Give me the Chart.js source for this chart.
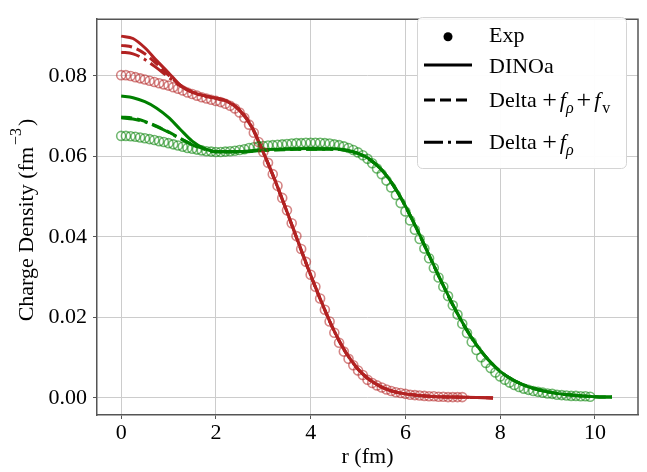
<!DOCTYPE html>
<html>
<head>
<meta charset="utf-8">
<script src="https://cdn.jsdelivr.net/npm/chart.js@4.4.0/dist/chart.umd.min.js"></script>
<style>
  html, body { margin: 0; padding: 0; background: #fff; }
</style>
</head>
<body>
<canvas id="myChart" width="647" height="472"></canvas>
<script>
// ---- data ----
let xTicks = [0, 2, 4, 6, 8, 10];
let yTicks = [0, 0.02, 0.04, 0.06, 0.08];

// red nucleus, experimental points
let rExpRed = [0.0,0.1,0.2,0.3,0.4,0.5,0.6,0.7,0.8,0.9,1.0,1.1,1.2,1.3,1.4,1.5,1.6,1.7,1.8,1.9,
  2.0,2.1,2.2,2.3,2.4,2.5,2.6,2.7,2.8,2.9,3.0,3.1,3.2,3.3,3.4,3.5,3.6,3.7,3.8,3.9,
  4.0,4.1,4.2,4.3,4.4,4.5,4.6,4.7,4.8,4.9,5.0,5.1,5.2,5.3,5.4,5.5,5.6,5.7,5.8,5.9,
  6.0,6.1,6.2,6.3,6.4,6.5,6.6,6.7,6.8,6.9,7.0,7.1,7.2];
let expRed = [0.0802,0.0802,0.0800,0.0797,0.0794,0.0791,0.0788,0.0785,0.0782,0.0779,
  0.0776,0.0772,0.0768,0.0764,0.0759,0.0755,0.0751,0.0747,0.0744,0.0741,
  0.0738,0.0735,0.0731,0.0726,0.0719,0.0709,0.0696,0.0679,0.0659,0.0636,
  0.0611,0.0584,0.0556,0.0527,0.0497,0.0466,0.0434,0.0402,0.0370,0.0338,
  0.0306,0.0276,0.0247,0.0219,0.0190,0.0162,0.0137,0.0115,0.0097,0.0081,
  0.0068,0.0057,0.0045,0.0037,0.0031,0.0026,0.0021,0.0017,0.0014,0.0012,
  0.0010,0.0008,0.0007,0.0006,0.0005,0.0004,0.0004,0.0003,0.0003,0.0002,
  0.0002,0.0002,0.0002];

// red nucleus, calculations
let rRed = [0,0.25,0.5,0.75,1,1.25,1.5,1.75,2,2.25,2.5,2.75,3,3.25,3.5,3.75,4,4.25,4.5,4.75,
  5,5.25,5.5,5.75,6,6.5,7,7.5,7.85];
let dinoaRed = [0.0899,0.0893,0.0870,0.0838,0.0808,0.0777,0.0760,0.0751,0.0745,0.0736,0.0714,0.0674,
  0.0610,0.0540,0.0463,0.0384,0.0306,0.0233,0.0166,0.0112,0.0072,0.0045,0.0027,0.0016,0.0010,
  0.0004,0.0002,0.0001,0.0000];
let deltaFrFvRed = [0.0876,0.0871,0.0855,0.0830,0.0802,0.0777,0.0760,0.0751,0.0745,0.0737,0.0716,0.0676,
  0.0611,0.0540,0.0462,0.0382,0.0304,0.0231,0.0165,0.0111,0.0071,0.0044,0.0027,0.0016,0.0010,
  0.0004,0.0002,0.0001,0.0000];
let deltaFrRed = [0.0859,0.0855,0.0841,0.0820,0.0797,0.0775,0.0759,0.0750,0.0744,0.0736,0.0715,0.0675,
  0.0610,0.0539,0.0462,0.0383,0.0305,0.0232,0.0165,0.0111,0.0071,0.0044,0.0027,0.0016,0.0010,
  0.0004,0.0002,0.0001,0.0000];

// green nucleus, experimental points
let rExpGreen = [0.0,0.1,0.2,0.3,0.4,0.5,0.6,0.7,0.8,0.9,1.0,1.1,1.2,1.3,1.4,1.5,1.6,1.7,1.8,1.9,
  2.0,2.1,2.2,2.3,2.4,2.5,2.6,2.7,2.8,2.9,3.0,3.1,3.2,3.3,3.4,3.5,3.6,3.7,3.8,3.9,
  4.0,4.1,4.2,4.3,4.4,4.5,4.6,4.7,4.8,4.9,5.0,5.1,5.2,5.3,5.4,5.5,5.6,5.7,5.8,5.9,
  6.0,6.1,6.2,6.3,6.4,6.5,6.6,6.7,6.8,6.9,7.0,7.1,7.2,7.3,7.4,7.5,7.6,7.7,7.8,7.9,
  8.0,8.1,8.2,8.3,8.4,8.5,8.6,8.7,8.8,8.9,9.0,9.1,9.2,9.3,9.4,9.5,9.6,9.7,9.8,9.9];
let expGreen = [0.0651,0.0651,0.0650,0.0649,0.0647,0.0645,0.0643,0.0641,0.0638,0.0636,
  0.0633,0.0630,0.0627,0.0624,0.0621,0.0619,0.0617,0.0615,0.0613,0.0612,
  0.0611,0.0611,0.0612,0.0613,0.0614,0.0616,0.0618,0.0621,0.0623,0.0625,
  0.0626,0.0627,0.0628,0.0629,0.0630,0.0631,0.0632,0.0633,0.0633,0.0634,
  0.0634,0.0634,0.0634,0.0633,0.0632,0.0630,0.0628,0.0625,0.0621,0.0616,
  0.0610,0.0603,0.0594,0.0583,0.0570,0.0556,0.0540,0.0523,0.0504,0.0484,
  0.0463,0.0441,0.0418,0.0395,0.0371,0.0347,0.0323,0.0299,0.0276,0.0253,
  0.0230,0.0207,0.0184,0.0161,0.0139,0.0119,0.0101,0.0087,0.0074,0.0063,
  0.0053,0.0045,0.0038,0.0032,0.0027,0.0023,0.0020,0.0017,0.0015,0.0013,
  0.0011,0.0010,0.0008,0.0007,0.0006,0.0005,0.0005,0.0004,0.0004,0.0003];

// green nucleus, calculations
let rGreen = [0,0.25,0.5,0.75,1,1.25,1.5,1.75,2,2.5,3,3.5,4,4.5,4.75,5,5.25,5.5,5.75,6,
  6.25,6.5,6.75,7,7.25,7.5,7.75,8,8.25,8.5,8.75,9,9.5,10,10.36];
let dinoaGreen = [0.0750,0.0746,0.0736,0.0720,0.0697,0.0667,0.0638,0.0620,0.0612,0.0612,0.0617,0.0619,
  0.0620,0.0619,0.0616,0.0608,0.0593,0.0567,0.0528,0.0477,0.0418,0.0355,0.0292,0.0232,0.0178,
  0.0132,0.0095,0.0066,0.0046,0.0032,0.0022,0.0015,0.0007,0.0003,0.0002];
let deltaFrFvGreen = [0.0698,0.0695,0.0687,0.0675,0.0661,0.0645,0.0630,0.0619,0.0612,0.0611,0.0615,0.0617,
  0.0618,0.0618,0.0615,0.0607,0.0592,0.0566,0.0527,0.0476,0.0417,0.0354,0.0291,0.0231,0.0178,
  0.0132,0.0095,0.0066,0.0046,0.0032,0.0022,0.0015,0.0007,0.0003,0.0002];
let deltaFrGreen = [0.0696,0.0693,0.0686,0.0674,0.0660,0.0644,0.0629,0.0618,0.0611,0.0611,0.0615,0.0618,
  0.0618,0.0618,0.0615,0.0607,0.0592,0.0566,0.0527,0.0476,0.0417,0.0354,0.0291,0.0231,0.0177,
  0.0131,0.0095,0.0066,0.0046,0.0032,0.0022,0.0015,0.0007,0.0003,0.0002];

const RED = '#b22222';
const GREEN = '#008000';
const FONT = '"Liberation Serif", "Times New Roman", serif';
const FS = 22;

function pts(xs, ys) {
    return xs.map((x, i) => ({x: x, y: ys[i]}));
}

function expSet(xs, ys, col) {
    return {
        data: pts(xs, ys),
        showLine: false,
        pointStyle: 'circle',
        pointRadius: 4.5,
        pointBorderWidth: 1.6,
        pointBackgroundColor: 'rgba(0,0,0,0)',
        pointBorderColor: col
    };
}

function lineSet(xs, ys, col, dash) {
    return {
        data: pts(xs, ys),
        showLine: true,
        borderColor: col,
        borderWidth: 3,
        borderDash: dash,
        pointRadius: 0,
        cubicInterpolationMode: 'monotone'
    };
}

const DASHED = [11, 5];
const DASHDOT = [19, 5, 3, 5];

// text made of pieces: italic, subscript, superscript, bigger operator
function partFont(p, size) {
    let s = size;
    if (p.sub || p.sup) s = Math.round(size * 0.72);
    if (p.big) s = Math.round(size * 1.2);
    return (p.it ? 'italic ' : '') + s + 'px ' + FONT;
}

function richText(ctx, parts, x, y, size) {
    parts.forEach(p => {
        if (p.gap) { x += p.gap; return; }
        ctx.font = partFont(p, size);
        let dy = p.sub ? size * 0.25 : (p.sup ? -size * 0.55 : (p.big ? 1 : 0));
        ctx.fillText(p.t, x, y + dy);
        x += ctx.measureText(p.t).width;
    });
    return x;
}

function richWidth(ctx, parts, size) {
    let w = 0;
    parts.forEach(p => {
        if (p.gap) { w += p.gap; return; }
        ctx.font = partFont(p, size);
        w += ctx.measureText(p.t).width;
    });
    return w;
}

let legendRows = [
    [{t: 'Exp'}],
    [{t: 'DINOa'}],
    [{t: 'Delta '}, {t: '+', big: 1}, {gap: 3}, {t: 'f', it: 1}, {t: 'ρ', it: 1, sub: 1}, {gap: 3}, {t: '+', big: 1}, {gap: 3}, {t: 'f', it: 1}, {gap: 2}, {t: 'v', sub: 1}],
    [{t: 'Delta '}, {t: '+', big: 1}, {gap: 3}, {t: 'f', it: 1}, {t: 'ρ', it: 1, sub: 1}]
];

const framePlugin = {
    id: 'frame',
    afterDatasetsDraw(chart) {
        let ctx = chart.ctx, a = chart.chartArea;
        ctx.save();
        ctx.strokeStyle = '#555';
        ctx.lineWidth = 1.5;
        ctx.beginPath();
        ctx.moveTo(a.left, a.top);
        ctx.lineTo(a.right, a.top);
        ctx.lineTo(a.right, a.bottom);
        ctx.stroke();
        ctx.restore();
    },
    afterDraw(chart) {
        let ctx = chart.ctx, a = chart.chartArea;
        ctx.save();
        ctx.fillStyle = '#000';
        ctx.textBaseline = 'alphabetic';

        // x title
        ctx.font = FS + 'px ' + FONT;
        ctx.textAlign = 'center';
        ctx.fillText('r (fm)', (a.left + a.right) / 2, 463);

        // y title with superscript
        ctx.textAlign = 'left';
        let yParts = [{t: 'Charge Density (fm'}, {gap: 2}, {t: '−3', sup: 1}, {gap: 2}, {t: ')'}];
        let w = richWidth(ctx, yParts, FS);
        ctx.translate(33, 220);
        ctx.rotate(-Math.PI / 2);
        richText(ctx, yParts, -w / 2, 0, FS);
        ctx.restore();

        // legend
        ctx.save();
        ctx.beginPath();
        ctx.roundRect(417.5, 17.5, 209, 151, 5);
        ctx.fillStyle = 'rgba(255,255,255,0.95)';
        ctx.fill();
        ctx.strokeStyle = '#d4d4d4';
        ctx.lineWidth = 1;
        ctx.stroke();

        let handleY = [36.7, 65, 100, 142.3];
        let textY = [42.3, 73.3, 107.3, 149.3];
        ctx.fillStyle = '#000';
        ctx.beginPath();
        ctx.arc(448, handleY[0], 4.5, 0, Math.PI * 2);
        ctx.fill();
        let dashes = [[], DASHED, DASHDOT];
        ctx.strokeStyle = '#000';
        ctx.lineWidth = 3;
        for (let i = 0; i < 3; i++) {
            ctx.setLineDash(dashes[i]);
            ctx.beginPath();
            ctx.moveTo(424, handleY[i + 1]);
            ctx.lineTo(472, handleY[i + 1]);
            ctx.stroke();
        }
        ctx.setLineDash([]);
        ctx.textAlign = 'left';
        legendRows.forEach((row, i) => richText(ctx, row, 489, textY[i], FS));
        ctx.restore();
    }
};

let tickFont = {family: FONT, size: FS};

let myChart = new Chart(document.getElementById('myChart').getContext('2d'), {
    type: 'scatter',
    data: {
        datasets: [
            expSet(rExpRed, expRed, 'rgba(178,34,34,0.55)'),
            expSet(rExpGreen, expGreen, 'rgba(0,128,0,0.55)'),
            lineSet(rRed, dinoaRed, RED, []),
            lineSet(rRed, deltaFrFvRed, RED, DASHED),
            lineSet(rRed, deltaFrRed, RED, DASHDOT),
            lineSet(rGreen, dinoaGreen, GREEN, []),
            lineSet(rGreen, deltaFrFvGreen, GREEN, DASHED),
            lineSet(rGreen, deltaFrGreen, GREEN, DASHDOT)
        ]
    },
    options: {
        responsive: false,
        animation: false,
        layout: {padding: {left: 0, top: 6, right: 9, bottom: 0}},
        plugins: {legend: {display: false}, tooltip: {enabled: false}},
        scales: {
            x: {
                type: 'linear',
                min: -0.51,
                max: 10.91,
                afterBuildTicks: s => { s.ticks = xTicks.map(v => ({value: v})); },
                afterFit: s => { s.height = 57; },
                grid: {color: '#cccccc', lineWidth: 1, tickLength: 4, tickColor: '#555'},
                border: {color: '#555', width: 1.5},
                ticks: {padding: 1, color: '#000', font: tickFont, maxRotation: 0, autoSkip: false,
                        callback: v => String(v)}
            },
            y: {
                type: 'linear',
                min: -0.00425,
                max: 0.0941,
                afterBuildTicks: s => { s.ticks = yTicks.map(v => ({value: v})); },
                afterFit: s => { s.width = 97; },
                grid: {color: '#cccccc', lineWidth: 1, tickLength: 4, tickColor: '#555'},
                border: {color: '#555', width: 1.5},
                ticks: {padding: 6, color: '#000', font: tickFont, autoSkip: false,
                        callback: v => v.toFixed(2)}
            }
        }
    },
    plugins: [framePlugin]
});
</script>
</body>
</html>
